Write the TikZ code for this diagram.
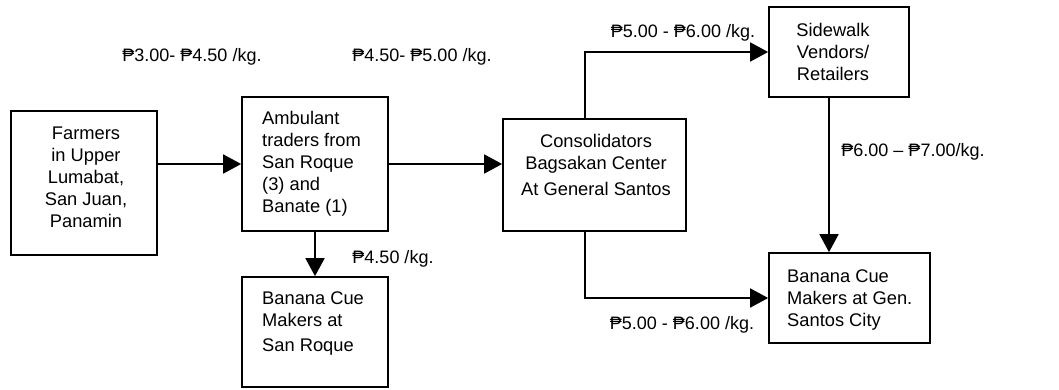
\documentclass[tikz,border=0pt]{standalone}
\usepackage{fontspec}
\setmainfont{Liberation Sans}
\usetikzlibrary{arrows.meta}
\begin{document}
\begin{tikzpicture}[x=1pt,y=-1pt,
  box/.style={draw,line width=1.7pt,rectangle,inner sep=0pt},
  txt/.style={font=\fontsize{18.3}{22}\selectfont,inner sep=0pt},
  price/.style={font=\fontsize{18}{22}\selectfont,inner sep=0pt},
  flow/.style={line width=1.7pt,-{Triangle[length=18pt,width=19pt]}}]
\useasboundingbox (0,0) rectangle (1059,389);
% boxes
\node[box,minimum width=146pt,minimum height=144pt] (farm) at (84,183) {};
\node[box,minimum width=146pt,minimum height=134pt] (amb) at (315,164) {};
\node[box,minimum width=146pt,minimum height=110pt] (bsr) at (315,332) {};
\node[box,minimum width=183pt,minimum height=112pt] (cons) at (594.5,175) {};
\node[box,minimum width=140pt,minimum height=90pt] (side) at (839,52) {};
\node[box,minimum width=161pt,minimum height=90pt] (gs) at (849.5,298) {};
% texts
\node[txt,align=center] (tfarm) at (86,177) {Farmers\\in Upper\\Lumabat,\\San Juan,\\Panamin};
\node[txt,align=left,anchor=west] (tamb) at (262,164) {Ambulant\\traders from\\San Roque\\(3) and\\Banate (1)};
\node[txt,align=left,anchor=west] (tbsr) at (262,324) {Banana Cue\\Makers at\\[3pt]San Roque};
\node[txt,align=center] (tcons) at (596,165) {Consolidators\\Bagsakan Center\\[4pt]At General Santos};
\node[txt,align=center] (tside) at (833,52) {Sidewalk\\Vendors/\\Retailers};
\node[txt,align=left,anchor=west] (tgs) at (787,300) {Banana Cue\\Makers at Gen.\\Santos City};
% prices
\node[price] (p1) at (192,57) {₱3.00- ₱4.50 /kg.};
\node[price] (p2) at (422,57) {₱4.50- ₱5.00 /kg.};
\node[price] (p3) at (683,33) {₱5.00 - ₱6.00 /kg.};
\node[price] (p4) at (913,152) {₱6.00 – ₱7.00/kg.};
\node[price] (p5) at (393,259) {₱4.50 /kg.};
\node[price] (p6) at (682,325) {₱5.00 - ₱6.00 /kg.};
% connectors
\draw[flow] (farm.east |- amb.west) -- (amb.west);
\draw[flow] (amb.east) -- (cons.west |- amb.east);
\draw[flow] (amb.south) -- (bsr.north);
\draw[flow] ([xshift=-9.5pt]cons.north) |- (side.west);
\draw[flow] ([xshift=-10pt]side.south) -- ([xshift=-10pt]side.south |- gs.north);
\draw[flow] ([xshift=-9.5pt]cons.south) |- (gs.west);
\end{tikzpicture}
\end{document}
